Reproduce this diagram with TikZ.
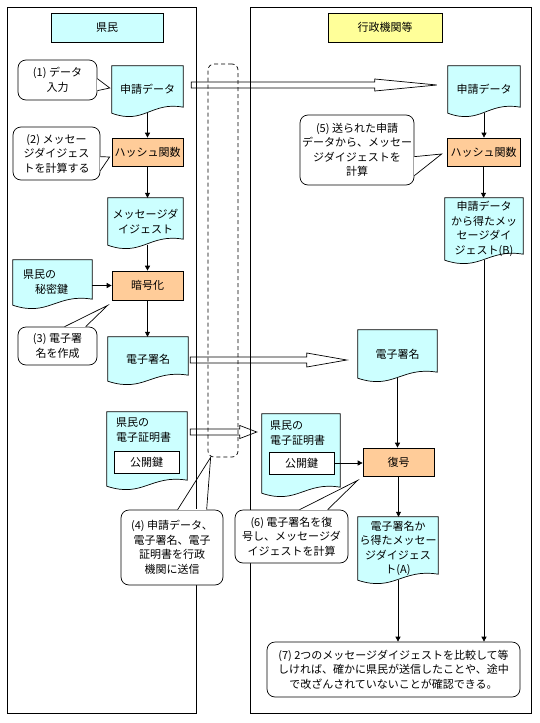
\documentclass[tikz,border=0pt]{standalone}
\usepackage{fontspec}
\newfontfamily\jp{Noto Sans CJK JP}
\usetikzlibrary{arrows.meta,calc}
\pgfdeclarelayer{bg}
\pgfsetlayers{bg,main}
\definecolor{cyanf}{HTML}{CCFFFF}
\definecolor{orangef}{HTML}{FFCC99}
\definecolor{yellowf}{HTML}{FFFF99}
\newcommand\docwave[1]{%
  \begin{pgfonlayer}{bg}
  \path[docdraw] let \p1=(#1.north west), \p2=(#1.south east), \n1={\x2-\x1} in
    (\x1,\y1) -- (\x2,\y1) -- (\x2,\y2+6pt)
    .. controls (\x1+0.55*\n1,\y2+12pt) and (\x1+0.45*\n1,\y2-12pt) .. (\x1,\y2) -- cycle;
  \end{pgfonlayer}}
\newcommand\blockarrow[5]{%
  \draw[ln] let \p1=#1, \p2=#2 in
    (\x1,\y1+#4) -- (\x2-#3,\y1+#4) -- (\x2-#3,\y1+#5) -- (\x2,\y1)
    -- (\x2-#3,\y1-#5) -- (\x2-#3,\y1-#4) -- (\x1,\y1-#4) -- cycle;}
\newcommand\pointer[3]{%
  \draw[white,line width=1.4pt] #1 -- #2;
  \draw[ln,line join=miter] #1 -- #3 -- #2;}
\begin{document}
\begin{tikzpicture}[x=1pt,y=-1pt,
  every node/.style={font=\jp\fontsize{11}{14.5}\selectfont, inner sep=0pt},
  ln/.style={line width=0.7pt},
  hdr/.style={draw, ln, minimum width=112pt, minimum height=29pt},
  docn/.style={align=center},
  docdraw/.style={draw, ln, fill=cyanf},
  proc/.style={draw, ln, fill=orangef, minimum width=71pt, minimum height=28pt},
  keybox/.style={draw, ln, fill=white, minimum width=65pt, minimum height=22pt},
  callnode/.style={draw, ln, fill=white, rounded corners=8pt, align=center},
  arr/.style={ln, -{Triangle[length=5pt,width=5pt]}},
  panel/.style={draw, ln, minimum height=706pt}]

\useasboundingbox (0,0) rectangle (540,723);
\begin{pgfonlayer}{bg}
\fill[white] (0,0) rectangle (540,723);
\end{pgfonlayer}

% panels
\node[panel, minimum width=189pt] (pL) at (101.5,360) {};
\node[panel, minimum width=281pt] (pR) at (390.5,360) {};
\node[draw, ln, dash pattern=on 4pt off 3pt, rounded corners=6pt,
      minimum width=30pt, minimum height=393pt] (dsh) at (223,260.5) {};

% headers
\node[hdr, fill=cyanf] (hL) at (107,27.5) {県民};
\node[hdr, fill=yellowf, minimum width=114pt] (hR) at (385,27.5) {行政機関等};

% left column
\node[docn, minimum width=71pt, minimum height=47pt] (d1) at (147.5,89.5) {申請データ};
\node[proc] (h1) at (147.5,152) {ハッシュ関数};
\node[docn, minimum width=75pt, minimum height=47pt] (d2) at (145.5,221.5) {メッセージダ\\イジェスト};
\node[docn, minimum width=79pt, minimum height=45pt] (kk) at (52.5,282.5) {};
\node[anchor=west, align=left] (kkt) at (23,282) {県民の\\\hspace*{12pt}秘密鍵};
\node[proc, minimum height=29pt] (e1) at (147.5,285.5) {暗号化};
\node[docn, minimum width=80pt, minimum height=44pt] (s1) at (148,359) {電子署名};
\node[docn, minimum width=80pt, minimum height=74pt] (c1) at (147,449) {};
\node[anchor=west, align=left] (c1t) at (116,430) {県民の\\電子証明書};
\node[keybox] (pk1) at (146.5,462) {公開鍵};

% right column
\node[docn, minimum width=72pt, minimum height=47pt] (d3) at (484,89.5) {申請データ};
\node[proc, minimum width=73pt] (h2) at (483.5,152) {ハッシュ関数};
\node[docn, minimum width=78pt, minimum height=62pt] (dB) at (484,229) {申請データ\\から得たメッ\\セージダイ\\ジェスト(B)};
\node[docn, minimum width=79pt, minimum height=48pt] (s2) at (397.5,354) {電子署名};
\node[docn, minimum width=78pt, minimum height=79pt] (c2) at (301,453.5) {};
\node[anchor=west, align=left] (c2t) at (270,433) {県民の\\電子証明書};
\node[keybox] (pk2) at (301.5,463) {公開鍵};
\node[proc] (dec) at (398.5,462) {復号};
\node[docn, minimum width=80pt, minimum height=63pt] (dA) at (398,548.5) {電子署名か\\ら得たメッセー\\ジダイジェス\\ト(A)};

\docwave{d1}\docwave{d2}\docwave{kk}\docwave{s1}\docwave{c1}
\docwave{d3}\docwave{dB}\docwave{s2}\docwave{c2}\docwave{dA}

% callouts
\node[callnode, minimum width=79pt, minimum height=40pt] (k1) at (57.5,80) {(1) データ\\入力};
\node[callnode, minimum width=87pt, minimum height=53pt] (k2) at (56.5,153.5) {(2) メッセー\\ジダイジェス\\トを計算する};
\node[callnode, minimum width=79pt, minimum height=38pt] (k3) at (57.5,346) {(3) 電子署\\名を作成};
\node[callnode, minimum width=102pt, minimum height=75pt] (k4) at (172,547.5) {(4) 申請データ、\\電子署名、電子\\証明書を行政\\機関に送信};
\node[callnode, minimum width=114pt, minimum height=70pt] (k5) at (357,150) {(5) 送られた申請\\データから、メッセー\\ジダイジェストを\\計算};
\node[callnode, minimum width=113pt, minimum height=53pt] (k6) at (291.5,536.5) {(6) 電子署名を復\\号し、メッセージダ\\イジェストを計算};
\node[callnode, minimum width=253pt, minimum height=55pt] (k7) at (393.5,669.5) {(7) 2つのメッセージダイジェストを比較して等\\しければ、確かに県民が送信したことや、途中\\で改ざんされていないことが確認できる。};

\pointer{($(k1.north east)+(0,19)$)}{($(k1.north east)+(0,31)$)}{($(d1.west)+(-2,-1.5)$)}
\pointer{($(k2.north east)+(0,30)$)}{($(k2.north east)+(0,44)$)}{($(h1.west)+(-2,5)$)}
\pointer{($(k3.north west)+(47,0)$)}{($(k3.north west)+(68,0)$)}{($(e1.south west)+(-4,5)$)}
\pointer{($(k4.north west)+(57,0)$)}{($(k4.north west)+(86,0)$)}{($(dsh.south west)+(3,0)$)}
\pointer{($(k5.north east)+(0,42)$)}{($(k5.north east)+(0,61)$)}{($(h2.west)+(-5,2)$)}
\pointer{($(k6.north west)+(65,0)$)}{($(k6.north west)+(93,0)$)}{($(dec.south west)+(-5,4)$)}

% connectors
\draw[arr] (d1.south) -- (h1.north);
\draw[arr] (h1.south) -- (h1.south |- d2.north);
\draw[arr] (e1.north |- d2.south) -- (e1.north);
\draw[arr] (kk.east |- e1.west) -- (e1.west);
\draw[arr] (e1.south) -- (e1.south |- s1.north);
\draw[arr] (d3.south) -- (d3.south |- h2.north);
\draw[arr] (h2.south) -- (h2.south |- dB.north);
\draw[arr] (s2.south) -- (s2.south |- dec.north);
\draw[arr] (pk2.east) -- (pk2.east -| dec.west);
\draw[arr] (dec.south) -- (dec.south |- dA.north);
\draw[arr] (dA.south) -- (dA.south |- k7.north);
\draw[arr] (dB.south) -- (dB.south |- k7.north);

% block arrows
\blockarrow{($(d1.east)+(8,-4.5)$)}{($(d3.west)+(-11,0)$)}{62pt}{3pt}{6pt}
\blockarrow{($(s1.east)+(2,1)$)}{($(s2.west)+(-11,0)$)}{40pt}{3pt}{7pt}
\blockarrow{($(c1.east)+(3,-17)$)}{($(c2.west)+(-5,0)$)}{17pt}{3pt}{6.5pt}
\end{tikzpicture}
\end{document}
